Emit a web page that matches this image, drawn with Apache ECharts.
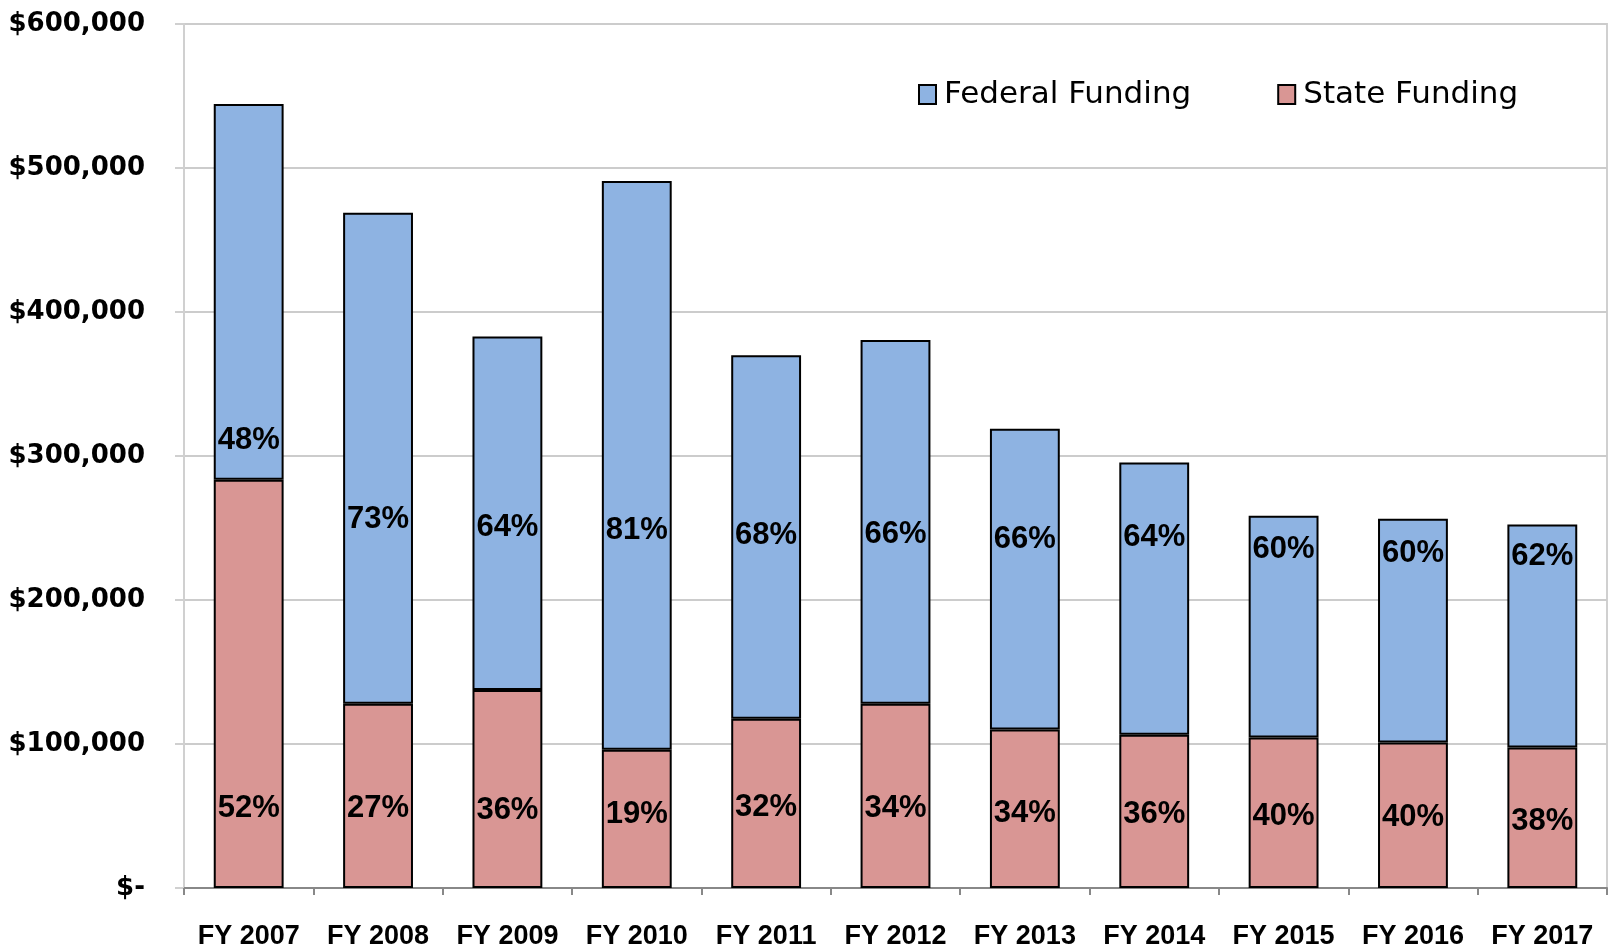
<!DOCTYPE html>
<html>
<head>
<meta charset="utf-8">
<script src="https://cdn.jsdelivr.net/npm/echarts@6/dist/echarts.min.js"></script>
<style>
  html, body { margin: 0; padding: 0; background: #fff; }
  #chart { width: 1618px; height: 950px; }
</style>
</head>
<body>
<div id="chart"></div>
<script>
// 联邦/州 资金堆叠柱状图
var years = ['FY 2007', 'FY 2008', 'FY 2009', 'FY 2010', 'FY 2011', 'FY 2012',
             'FY 2013', 'FY 2014', 'FY 2015', 'FY 2016', 'FY 2017'];
// 州资金（柱子下段）
var stateFunding = [283500, 128000, 137500, 96000, 117500, 128000,
                    110000, 106500, 104500, 101000, 97500];
// 联邦资金（柱子上段）= 总额 - 州资金
var federalFunding = [261000, 341000, 245500, 395000, 252500, 252500,
                      209000, 189000, 154000, 155500, 155000];
// 百分比标签
var statePct = ['52%', '27%', '36%', '19%', '32%', '34%', '34%', '36%', '40%', '40%', '38%'];
var federalPct = ['48%', '73%', '64%', '81%', '68%', '66%', '66%', '64%', '60%', '60%', '62%'];
// 百分比标签所在的数值高度
var stateLabelAt = [55000, 55000, 54000, 51000, 56000, 55000, 52000, 51000, 50000, 49000, 46000];
var federalLabelAt = [311000, 256000, 250500, 248500, 245000, 245500, 242000, 243500, 235000, 232500, 230500];
// y轴刻度
var yTicks = [0, 100000, 200000, 300000, 400000, 500000, 600000];

var FED_COLOR = '#8eb3e2',
    STATE_COLOR = '#d99694',
    ARIAL = "'Liberation Sans', Arial, sans-serif";

var chart = echarts.init(document.getElementById('chart'), null, { renderer: 'canvas' });

function labelPoints(levels, texts) {
    var pts = [];
    for (var i = 0; i < years.length; i++) {
        pts.push({ value: [years[i], levels[i]], name: texts[i] });
    }
    return pts;
}

var pctLabel = {
    show: true,
    position: 'inside',
    formatter: '{b}',
    color: '#000',
    opacity: 1,
    fontFamily: ARIAL,
    fontWeight: 'bold',
    fontSize: 31
};

chart.setOption({
    animation: false,
    grid: {
        left: 184,
        right: 11,
        top: 24,
        bottom: 62,
        show: true,
        borderColor: '#d0d0d0',
        borderWidth: 2
    },
    legend: {
        left: 913,
        top: 74,
        itemWidth: 17,
        itemHeight: 19,
        itemGap: 86,
        selectedMode: false,
        icon: 'rect',
        textStyle: {
            color: '#000',
            fontFamily: 'DejaVu Sans',
            fontSize: 31,
            padding: [0, 0, 0, 3]
        },
        data: [
            { name: 'Federal Funding', itemStyle: { color: FED_COLOR, borderColor: '#000', borderWidth: 2 } },
            { name: 'State Funding', itemStyle: { color: STATE_COLOR, borderColor: '#000', borderWidth: 2 } }
        ]
    },
    xAxis: {
        type: 'category',
        data: years,
        axisLine: { lineStyle: { color: '#888', width: 2 } },
        axisTick: { show: true, interval: 0, length: 7, lineStyle: { color: '#888', width: 2 } },
        axisLabel: {
            interval: 0,
            margin: 35,
            color: '#000',
            fontFamily: ARIAL,
            fontWeight: 'bold',
            fontSize: 27
        },
        splitLine: { show: false }
    },
    yAxis: {
        type: 'value',
        min: yTicks[0],
        max: yTicks[yTicks.length - 1],
        interval: yTicks[1] - yTicks[0],
        axisLine: { show: true, lineStyle: { color: '#d0d0d0', width: 2 } },
        axisTick: { show: true, length: 9, lineStyle: { color: '#d0d0d0', width: 2 } },
        axisLabel: {
            margin: 39,
            color: '#000',
            fontFamily: 'DejaVu Sans',
            fontWeight: 'bold',
            fontSize: 26,
            formatter: function (v) {
                return v === 0 ? '$-' : '$' + v.toLocaleString('en-US');
            }
        },
        splitLine: { lineStyle: { color: '#cccccc', width: 2 } }
    },
    series: [
        {
            name: 'State Funding',
            type: 'bar',
            stack: 'total',
            barWidth: '54%',
            data: stateFunding,
            itemStyle: { color: STATE_COLOR, borderColor: '#000', borderWidth: 2 }
        },
        {
            name: 'Federal Funding',
            type: 'bar',
            stack: 'total',
            barWidth: '54%',
            data: federalFunding,
            itemStyle: { color: FED_COLOR, borderColor: '#000', borderWidth: 2 }
        },
        {
            name: 'stateLabels',
            type: 'scatter',
            symbolSize: 0,
            silent: true,
            z: 5,
            itemStyle: { opacity: 1 },
            data: labelPoints(stateLabelAt, statePct),
            label: pctLabel
        },
        {
            name: 'federalLabels',
            type: 'scatter',
            symbolSize: 0,
            silent: true,
            z: 5,
            itemStyle: { opacity: 1 },
            data: labelPoints(federalLabelAt, federalPct),
            label: pctLabel
        }
    ]
});
</script>
</body>
</html>
